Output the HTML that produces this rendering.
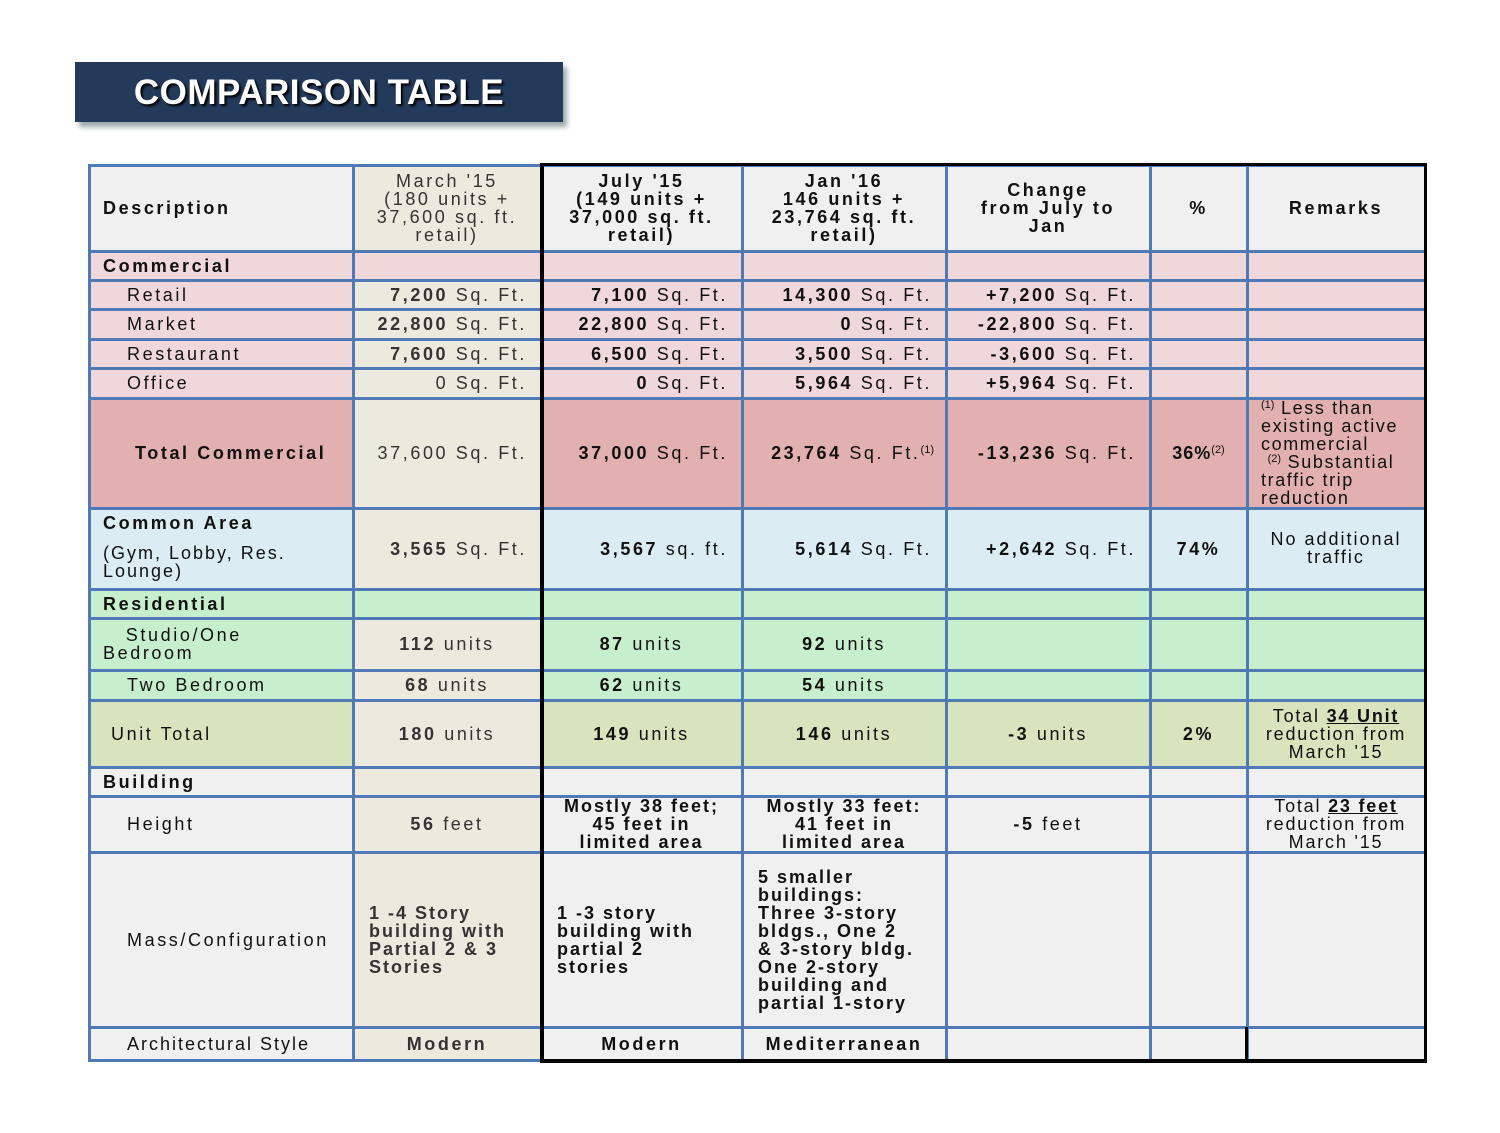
<!DOCTYPE html>
<html><head><meta charset="utf-8"><style>
body{margin:0;width:1500px;height:1133px;background:#fff;position:relative;font-family:"Liberation Sans",Arial,sans-serif;overflow:hidden}
.title{position:absolute;left:75px;top:62px;width:488px;height:60px;background:#243a5a;box-shadow:4px 5px 5px #9aa;color:#fff;font-weight:bold;font-size:35px;line-height:62px;text-align:center;letter-spacing:0.5px;text-shadow:2px 2px 2px #000}
.c{position:absolute;display:flex;align-items:center;box-sizing:border-box;font-size:18px;letter-spacing:2.6px;line-height:18px;color:#111;white-space:nowrap}
.L{justify-content:flex-start;padding-left:14px}
.R{justify-content:flex-end;padding-right:14px}
.C{justify-content:center;text-align:center}
.b{font-weight:bold}
.m{color:#333}
sup{font-size:11px;vertical-align:6px;letter-spacing:0;line-height:0}
.v{position:absolute;background:#4f7ab5;width:3px}
.h{position:absolute;background:#4f7ab5;height:3px}
.k{position:absolute;background:#000}
</style></head><body>
<div class="title">COMPARISON TABLE</div>

<div style="position:absolute;left:89px;top:165px;width:1336px;height:86px;background:#f0f0f0"></div>
<div style="position:absolute;left:89px;top:251px;width:1336px;height:147px;background:#f0d8da"></div>
<div style="position:absolute;left:89px;top:398px;width:1336px;height:110px;background:#e2b0b1"></div>
<div style="position:absolute;left:89px;top:508px;width:1336px;height:81px;background:#dbecf2"></div>
<div style="position:absolute;left:89px;top:589px;width:1336px;height:111px;background:#c7efce"></div>
<div style="position:absolute;left:89px;top:700px;width:1336px;height:67px;background:#d7e4bd"></div>
<div style="position:absolute;left:89px;top:767px;width:1336px;height:293px;background:#f0f0f0"></div>
<div style="position:absolute;left:353px;top:165px;width:188px;height:86px;background:#ece9df"></div>
<div style="position:absolute;left:353px;top:280px;width:188px;height:309px;background:#ece9df"></div>
<div style="position:absolute;left:353px;top:618px;width:188px;height:442px;background:#ece9df"></div>

<div class="c L b" style="left:89px;top:165px;width:264px;height:86px">Description</div>
<div class="c C m" style="left:353px;top:165px;width:188px;height:86px"><div>March '15<br>(180 units +<br>37,600 sq. ft.<br>retail)</div></div>
<div class="c C b" style="left:541px;top:165px;width:201px;height:86px"><div>July '15<br>(149 units +<br>37,000 sq. ft.<br>retail)</div></div>
<div class="c C b" style="left:742px;top:165px;width:204px;height:86px"><div>Jan '16<br>146 units +<br>23,764 sq. ft.<br>retail)</div></div>
<div class="c C b" style="left:946px;top:165px;width:204px;height:86px"><div>Change<br>from July to<br>Jan</div></div>
<div class="c C b" style="left:1150px;top:165px;width:97px;height:86px">%</div>
<div class="c C b" style="left:1247px;top:165px;width:178px;height:86px">Remarks</div>

<div class="c L b" style="left:89px;top:251px;width:264px;height:29px">Commercial</div>

<div class="c L" style="left:89px;top:280px;width:264px;height:29px;padding-left:38px">Retail</div>
<div class="c R m" style="left:353px;top:280px;width:188px;height:29px"><div><b>7,200</b> Sq. Ft.</div></div>
<div class="c R" style="left:541px;top:280px;width:201px;height:29px"><div><b>7,100</b> Sq. Ft.</div></div>
<div class="c R" style="left:742px;top:280px;width:204px;height:29px"><div><b>14,300</b> Sq. Ft.</div></div>
<div class="c R" style="left:946px;top:280px;width:204px;height:29px"><div><b>+7,200</b> Sq. Ft.</div></div>

<div class="c L" style="left:89px;top:309px;width:264px;height:30px;padding-left:38px">Market</div>
<div class="c R m" style="left:353px;top:309px;width:188px;height:30px"><div><b>22,800</b> Sq. Ft.</div></div>
<div class="c R" style="left:541px;top:309px;width:201px;height:30px"><div><b>22,800</b> Sq. Ft.</div></div>
<div class="c R" style="left:742px;top:309px;width:204px;height:30px"><div><b>0</b> Sq. Ft.</div></div>
<div class="c R" style="left:946px;top:309px;width:204px;height:30px"><div><b>-22,800</b> Sq. Ft.</div></div>

<div class="c L" style="left:89px;top:339px;width:264px;height:29px;padding-left:38px">Restaurant</div>
<div class="c R m" style="left:353px;top:339px;width:188px;height:29px"><div><b>7,600</b> Sq. Ft.</div></div>
<div class="c R" style="left:541px;top:339px;width:201px;height:29px"><div><b>6,500</b> Sq. Ft.</div></div>
<div class="c R" style="left:742px;top:339px;width:204px;height:29px"><div><b>3,500</b> Sq. Ft.</div></div>
<div class="c R" style="left:946px;top:339px;width:204px;height:29px"><div><b>-3,600</b> Sq. Ft.</div></div>

<div class="c L" style="left:89px;top:368px;width:264px;height:30px;padding-left:38px">Office</div>
<div class="c R m" style="left:353px;top:368px;width:188px;height:30px">0 Sq. Ft.</div>
<div class="c R" style="left:541px;top:368px;width:201px;height:30px"><div><b>0</b> Sq. Ft.</div></div>
<div class="c R" style="left:742px;top:368px;width:204px;height:30px"><div><b>5,964</b> Sq. Ft.</div></div>
<div class="c R" style="left:946px;top:368px;width:204px;height:30px"><div><b>+5,964</b> Sq. Ft.</div></div>

<div class="c L b" style="left:89px;top:398px;width:264px;height:110px;padding-left:46px">Total Commercial</div>
<div class="c R m" style="left:353px;top:398px;width:188px;height:110px">37,600 Sq. Ft.</div>
<div class="c R" style="left:541px;top:398px;width:201px;height:110px"><div><b>37,000</b> Sq. Ft.</div></div>
<div class="c R" style="left:742px;top:398px;width:204px;height:110px;padding-right:12px"><div><b>23,764</b> Sq. Ft.<sup>(1)</sup></div></div>
<div class="c R" style="left:946px;top:398px;width:204px;height:110px"><div><b>-13,236</b> Sq. Ft.</div></div>
<div class="c C" style="left:1150px;top:398px;width:97px;height:110px;letter-spacing:1px"><div><b>36%</b><sup>(2)</sup></div></div>
<div class="c L" style="left:1247px;top:398px;width:178px;height:110px;padding-left:14px;letter-spacing:1.6px;align-items:flex-start;overflow:hidden"><div style="margin-top:1px;line-height:18px"><sup>(1)</sup> Less than<br>existing active<br>commercial<br>&nbsp;<sup>(2)</sup> Substantial<br>traffic trip<br>reduction</div></div>

<div class="c L b" style="left:89px;top:508px;width:264px;height:29px">Common Area</div>
<div class="c L" style="left:89px;top:534px;width:264px;height:55px;letter-spacing:2px"><div>(Gym, Lobby, Res.<br>Lounge)</div></div>
<div class="c R m" style="left:353px;top:508px;width:188px;height:81px"><div><b>3,565</b> Sq. Ft.</div></div>
<div class="c R" style="left:541px;top:508px;width:201px;height:81px"><div><b>3,567</b> sq. ft.</div></div>
<div class="c R" style="left:742px;top:508px;width:204px;height:81px"><div><b>5,614</b> Sq. Ft.</div></div>
<div class="c R" style="left:946px;top:508px;width:204px;height:81px"><div><b>+2,642</b> Sq. Ft.</div></div>
<div class="c C b" style="left:1150px;top:508px;width:97px;height:81px">74%</div>
<div class="c C" style="left:1247px;top:520px;width:178px;height:56px;letter-spacing:2px"><div>No additional<br>traffic</div></div>

<div class="c L b" style="left:89px;top:589px;width:264px;height:29px">Residential</div>

<div class="c L" style="left:89px;top:618px;width:264px;height:52px"><div>&nbsp;&nbsp;&nbsp;Studio/One<br>Bedroom</div></div>
<div class="c C m" style="left:353px;top:618px;width:188px;height:52px"><div><b>112</b> units</div></div>
<div class="c C" style="left:541px;top:618px;width:201px;height:52px"><div><b>87</b> units</div></div>
<div class="c C" style="left:742px;top:618px;width:204px;height:52px"><div><b>92</b> units</div></div>

<div class="c L" style="left:89px;top:670px;width:264px;height:30px;padding-left:38px">Two Bedroom</div>
<div class="c C m" style="left:353px;top:670px;width:188px;height:30px"><div><b>68</b> units</div></div>
<div class="c C" style="left:541px;top:670px;width:201px;height:30px"><div><b>62</b> units</div></div>
<div class="c C" style="left:742px;top:670px;width:204px;height:30px"><div><b>54</b> units</div></div>

<div class="c L" style="left:89px;top:700px;width:264px;height:67px;padding-left:22px">Unit Total</div>
<div class="c C m" style="left:353px;top:700px;width:188px;height:67px"><div><b>180</b> units</div></div>
<div class="c C" style="left:541px;top:700px;width:201px;height:67px"><div><b>149</b> units</div></div>
<div class="c C" style="left:742px;top:700px;width:204px;height:67px"><div><b>146</b> units</div></div>
<div class="c C" style="left:946px;top:700px;width:204px;height:67px"><div><b>-3</b> units</div></div>
<div class="c C b" style="left:1150px;top:700px;width:97px;height:67px">2%</div>
<div class="c C" style="left:1247px;top:700px;width:178px;height:67px;letter-spacing:1.8px"><div>Total <b><u>34 Unit</u></b><br>reduction from<br>March '15</div></div>

<div class="c L b" style="left:89px;top:767px;width:264px;height:29px">Building</div>

<div class="c L" style="left:89px;top:796px;width:264px;height:56px;padding-left:38px">Height</div>
<div class="c C m" style="left:353px;top:796px;width:188px;height:56px"><div><b>56</b> feet</div></div>
<div class="c C b" style="left:541px;top:796px;width:201px;height:56px;letter-spacing:2px"><div>Mostly 38 feet;<br>45 feet in<br>limited area</div></div>
<div class="c C b" style="left:742px;top:796px;width:204px;height:56px;letter-spacing:2px"><div>Mostly 33 feet:<br>41 feet in<br>limited area</div></div>
<div class="c C" style="left:946px;top:796px;width:204px;height:56px"><div><b>-5</b> feet</div></div>
<div class="c C" style="left:1247px;top:796px;width:178px;height:56px;letter-spacing:1.8px"><div>Total <b><u>23 feet</u></b><br>reduction from<br>March '15</div></div>

<div class="c L" style="left:89px;top:852px;width:264px;height:175px;padding-left:38px">Mass/Configuration</div>
<div class="c L b m" style="left:353px;top:852px;width:188px;height:175px;padding-left:16px;letter-spacing:2px"><div>1 -4 Story<br>building with<br>Partial 2 &amp; 3<br>Stories</div></div>
<div class="c L b" style="left:541px;top:852px;width:201px;height:175px;padding-left:16px;letter-spacing:2px"><div>1 -3 story<br>building with<br>partial 2<br>stories</div></div>
<div class="c L b" style="left:742px;top:852px;width:204px;height:175px;padding-left:16px;letter-spacing:2px"><div>5 smaller<br>buildings:<br>Three 3-story<br>bldgs., One 2<br>&amp; 3-story bldg.<br>One 2-story<br>building and<br>partial 1-story</div></div>

<div class="c L" style="left:89px;top:1027px;width:264px;height:33px;padding-left:38px;letter-spacing:2px">Architectural Style</div>
<div class="c C b m" style="left:353px;top:1027px;width:188px;height:33px">Modern</div>
<div class="c C b" style="left:541px;top:1027px;width:201px;height:33px">Modern</div>
<div class="c C b" style="left:742px;top:1027px;width:204px;height:33px">Mediterranean</div>

<div class="v" style="left:88px;top:164px;height:898px"></div>
<div class="v" style="left:352px;top:164px;height:898px"></div>
<div class="v" style="left:741px;top:164px;height:898px"></div>
<div class="v" style="left:945px;top:164px;height:898px"></div>
<div class="v" style="left:1149px;top:164px;height:898px"></div>
<div class="v" style="left:1246px;top:164px;height:898px"></div>
<div class="h" style="left:88px;top:164px;width:1339px"></div>
<div class="h" style="left:88px;top:250px;width:1339px"></div>
<div class="h" style="left:88px;top:279px;width:1339px"></div>
<div class="h" style="left:88px;top:308px;width:1339px"></div>
<div class="h" style="left:88px;top:338px;width:1339px"></div>
<div class="h" style="left:88px;top:367px;width:1339px"></div>
<div class="h" style="left:88px;top:397px;width:1339px"></div>
<div class="h" style="left:88px;top:507px;width:1339px"></div>
<div class="h" style="left:88px;top:588px;width:1339px"></div>
<div class="h" style="left:88px;top:617px;width:1339px"></div>
<div class="h" style="left:88px;top:669px;width:1339px"></div>
<div class="h" style="left:88px;top:699px;width:1339px"></div>
<div class="h" style="left:88px;top:766px;width:1339px"></div>
<div class="h" style="left:88px;top:795px;width:1339px"></div>
<div class="h" style="left:88px;top:851px;width:1339px"></div>
<div class="h" style="left:88px;top:1026px;width:1339px"></div>
<div class="h" style="left:88px;top:1059px;width:454px"></div>

<div class="k" style="left:540px;top:163px;width:887px;height:3px"></div>
<div class="k" style="left:540px;top:163px;width:4px;height:900px"></div>
<div class="k" style="left:1424px;top:163px;width:3px;height:900px"></div>
<div class="k" style="left:540px;top:1059px;width:887px;height:4px"></div>
<div class="k" style="left:1245px;top:1027px;width:3px;height:34px"></div>
</body></html>
